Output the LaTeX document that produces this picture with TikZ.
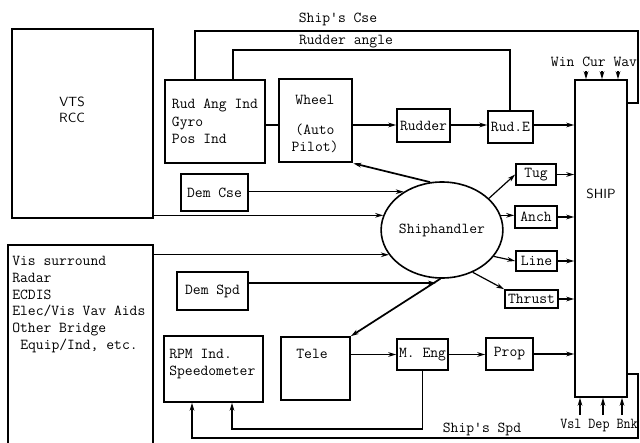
\documentclass[tikz,border=0pt]{standalone}
\usepackage{fontspec}
\usepackage{graphicx}
\usetikzlibrary{arrows.meta,shapes.geometric}
\begin{document}
\begin{tikzpicture}[x=0.75pt,y=-0.75pt,
  font=\ttfamily\fontsize{11.4}{12.6}\selectfont,
  box/.style 2 args={draw,line width=1.2pt,inner sep=0pt,minimum width=#1pt,minimum height=#2pt},
  txt/.style={inner sep=0pt},
  sans/.style={font=\sffamily\fontsize{10}{12}\selectfont},
  conn/.style={line width=0.9pt},
  arr/.style={conn,-{Stealth[length=6pt,width=3.5pt]}}]
\useasboundingbox (0,0) rectangle (640,443);
\fill[white] (0,0) rectangle (640,443);
\begin{scope}
\clip (0,0) rectangle (640,443);
% boxes
\node[box={105.75}{141.75}] (vts) at (82.5,123.5) {};
\node[txt,sans,align=center] (vtst) at (72,110) {VTS\\RCC};
\node[box={108.75}{168.75}] (vis) at (80.5,357.5) {};
\node[txt,align=left,anchor=north west] (vist) at (12,256) {Vis surround\\Radar\\ECDIS\\Elec/Vis Vav Aids\\Other Bridge\\\hspace*{6pt}Equip/Ind, etc.};
\node[box={75}{62.25},align=left,font=\ttfamily\fontsize{11.4}{13}\selectfont] (rai) at (215,121.5) {Rud Ang Ind\\Gyro\\Pos Ind};
\node[box={54.75}{62.25},line width=2pt] (wheel) at (315.5,120.5) {};
\node[txt,align=center] (wheelt) at (315,124) {Wheel\\[10pt](Auto\\Pilot)};
\node[box={50.25}{27.75}] (demcse) at (214.5,192.5) {Dem Cse};
\node[box={39.75}{24.75}] (rudder) at (423.5,125.5) {Rudder};
\node[box={33.75}{24}] (rude) at (510.5,127) {Rud.E};
\node[box={39}{237.75}] (ship) at (601,238.5) {};
\node[txt,sans] (shipt) at (601,194) {SHIP};
\node[draw,ellipse,line width=1.2pt,minimum width=82.5pt,minimum height=72pt,inner sep=0pt] (sh) at (442,230) {Shiphandler};
\node[box={30}{15.75}] (tug) at (536,174.5) {Tug};
\node[box={31.5}{16.5}] (anch) at (536,217) {Anch};
\node[box={30.75}{15}] (lin) at (536.5,261) {Line};
\node[box={39.75}{13.5}] (thrust) at (531.5,299) {Thrust};
\node[box={53.25}{28.5}] (demspd) at (212.5,291) {Dem Spd};
\node[box={74.25}{49.5}] (rpm) at (213.5,369) {};
\node[txt,align=left,anchor=north west] (rpmt) at (169,349) {RPM Ind.\\Speedometer};
\node[box={51.75}{47.25}] (tele) at (315.5,368.5) {};
\node[txt] (telet) at (312,354) {Tele};
\node[box={38.25}{23.25}] (meng) at (422.5,354.5) {M. Eng};
\node[box={35.25}{24}] (prop) at (509.5,354) {Prop};
% labels
\node[txt] (lcse) at (338,19) {Ship's Cse};
\node[txt] (lrud) at (346,42) {Rudder angle};
\node[txt] (lspd) at (482,429) {Ship's Spd};
\node[txt] (lwin) at (594,62) {Win Cur Wav};
\node[txt] (lvsl) at (599,426) {\scalebox{0.9}[1]{Vsl Dep Bnk}};
% coordinates
\coordinate (c1) at (638,103);
\coordinate (c2) at (638,31);
\coordinate (c3) at (195,31);
\coordinate (c4) at (233,50);
\coordinate (c5) at (510,50);
\coordinate (r125) at (300,125);
\coordinate (d283) at (436,283);
\coordinate (s1) at (422,429);
\coordinate (s2) at (232,429);
\coordinate (s3) at (638,374);
\coordinate (s4) at (638,438);
\coordinate (s5) at (192,438);
\coordinate (w1) at (586,71);
\coordinate (w2) at (602,71);
\coordinate (w3) at (618,71);
\coordinate (v1) at (580,415);
\coordinate (v2) at (603,415);
\coordinate (v3) at (622,415);
% feedback lines on top
\draw[conn] (ship.east |- c1) -- (c1) -- (c2) -- (c3) -- (rai.north -| c3);
\draw[conn] (rude.north -| c5) -- (c5) -- (c4) -- (rai.north -| c4);
% rudder chain
\draw[line width=1.6pt] (rai.east |- r125) -- (wheel.west |- r125);
\draw[arr] (wheel.east |- r125) -- (rudder.west |- r125);
\draw[arr] (rudder.east |- r125) -- (rude.west |- r125);
\draw[arr] (rude.east |- r125) -- (ship.west |- r125);
% into shiphandler
\draw[arr,line width=1.3pt] (sh.104) -- (wheel.south east);
\draw[arr] (demcse.east |- sh.135) -- (sh.135);
\draw[arr] (vts.east |- sh.166) -- (sh.166);
\draw[arr] (vis.east |- sh.205) -- (sh.205);
\draw[arr] (demspd.east |- d283) -- (d283);
\draw[arr,line width=1.3pt] (sh.268) -- (tele.north east);
% out of shiphandler
\draw[arr] (sh.34) -- (tug.west);
\draw[arr] (sh.14) -- (anch.west |- sh.14);
\draw[arr] (sh.-27) -- (lin.west);
\draw[arr] (sh.-54) -- (thrust.north west);
\draw[arr] (tug.east) -- (ship.west |- tug.east);
\draw[arr] (anch.east) -- (ship.west |- anch.east);
\draw[arr] (lin.east) -- (ship.west |- lin.east);
\draw[arr] (thrust.east) -- (ship.west |- thrust.east);
% engine chain
\draw[arr] (tele.east |- meng.west) -- (meng.west);
\draw[arr] (meng.east) -- (prop.west |- meng.east);
\draw[arr] (prop.east) -- (ship.west |- prop.east);
% speed feedback
\draw[arr] (meng.south) -- (meng.south |- s1) -- (s2) -- (rpm.south -| s2);
\draw[arr] (ship.east |- s3) -- (s3) -- (s4) -- (s5) -- (rpm.south -| s5);
% environment
\foreach \w in {w1,w2,w3} \draw[arr] (\w) -- (ship.north -| \w);
\foreach \v in {v1,v2,v3} \draw[arr] (\v) -- (ship.south -| \v);
\end{scope}
\end{tikzpicture}
\end{document}
